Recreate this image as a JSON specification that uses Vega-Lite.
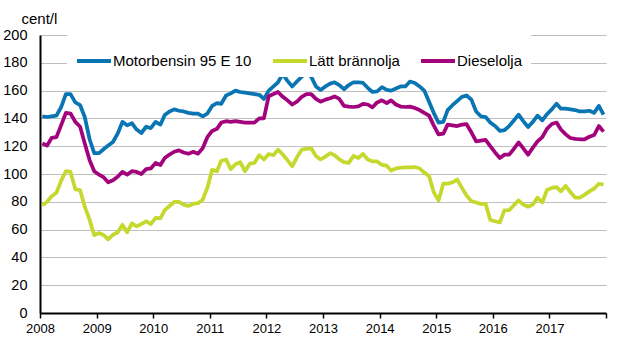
{
  "$schema": "https://vega.github.io/schema/vega-lite/v6.json",
  "width": 566,
  "height": 278,
  "autosize": {"type": "none"},
  "padding": {"left": 40, "top": 35, "right": 22, "bottom": 50},
  "background": "white",
  "config": {"view": {"stroke": null}, "font": "Liberation Sans"},
  "data": {"values": [
    {"d":"2008-01-16","bensin":141.5,"latt":77.5,"diesel":122},
    {"d":"2008-02-16","bensin":141,"latt":80,"diesel":120.5},
    {"d":"2008-03-16","bensin":141.5,"latt":84,"diesel":126},
    {"d":"2008-04-16","bensin":142,"latt":86.5,"diesel":126.5},
    {"d":"2008-05-16","bensin":148,"latt":95,"diesel":135},
    {"d":"2008-06-16","bensin":157.5,"latt":102,"diesel":144},
    {"d":"2008-07-16","bensin":157.5,"latt":101.5,"diesel":143.5},
    {"d":"2008-08-16","bensin":151.5,"latt":89,"diesel":137.5},
    {"d":"2008-09-16","bensin":149.5,"latt":88.5,"diesel":134},
    {"d":"2008-10-16","bensin":141,"latt":76.5,"diesel":122},
    {"d":"2008-11-16","bensin":125,"latt":67,"diesel":110},
    {"d":"2008-12-16","bensin":115,"latt":56,"diesel":102},
    {"d":"2009-01-16","bensin":115,"latt":57.5,"diesel":99.5},
    {"d":"2009-02-16","bensin":118,"latt":56,"diesel":97.5},
    {"d":"2009-03-16","bensin":120.5,"latt":53,"diesel":94},
    {"d":"2009-04-16","bensin":123,"latt":56.3,"diesel":95.5},
    {"d":"2009-05-16","bensin":129,"latt":58,"diesel":98},
    {"d":"2009-06-16","bensin":137.5,"latt":63.5,"diesel":101.5},
    {"d":"2009-07-16","bensin":135,"latt":58,"diesel":99.5},
    {"d":"2009-08-16","bensin":136.5,"latt":64.5,"diesel":102},
    {"d":"2009-09-16","bensin":132,"latt":62.3,"diesel":101.5},
    {"d":"2009-10-16","bensin":129.5,"latt":64,"diesel":100},
    {"d":"2009-11-16","bensin":134,"latt":66,"diesel":103.5},
    {"d":"2009-12-16","bensin":133,"latt":64,"diesel":104},
    {"d":"2010-01-16","bensin":137.5,"latt":68.5,"diesel":108},
    {"d":"2010-02-16","bensin":135.5,"latt":68,"diesel":106.5},
    {"d":"2010-03-16","bensin":142.5,"latt":74,"diesel":111.5},
    {"d":"2010-04-16","bensin":145,"latt":77,"diesel":114},
    {"d":"2010-05-16","bensin":146.5,"latt":80,"diesel":116},
    {"d":"2010-06-16","bensin":145.5,"latt":80,"diesel":117},
    {"d":"2010-07-16","bensin":145,"latt":78,"diesel":115.5},
    {"d":"2010-08-16","bensin":144,"latt":77,"diesel":114.6},
    {"d":"2010-09-16","bensin":143.5,"latt":78.5,"diesel":116},
    {"d":"2010-10-16","bensin":143.5,"latt":79,"diesel":114.6},
    {"d":"2010-11-16","bensin":141.5,"latt":81.5,"diesel":118.5},
    {"d":"2010-12-16","bensin":143.5,"latt":90,"diesel":126.5},
    {"d":"2011-01-16","bensin":149,"latt":103,"diesel":131},
    {"d":"2011-02-16","bensin":151,"latt":102,"diesel":132.5},
    {"d":"2011-03-16","bensin":150.5,"latt":109.5,"diesel":137},
    {"d":"2011-04-16","bensin":156.5,"latt":110.3,"diesel":138},
    {"d":"2011-05-16","bensin":158,"latt":103.5,"diesel":137.5},
    {"d":"2011-06-16","bensin":160,"latt":107,"diesel":138},
    {"d":"2011-07-16","bensin":159,"latt":108.5,"diesel":137.5},
    {"d":"2011-08-16","bensin":158.5,"latt":102,"diesel":137},
    {"d":"2011-09-16","bensin":158,"latt":107.4,"diesel":137},
    {"d":"2011-10-16","bensin":157.5,"latt":108,"diesel":137},
    {"d":"2011-11-16","bensin":157,"latt":113.5,"diesel":140},
    {"d":"2011-12-16","bensin":154,"latt":110.5,"diesel":140},
    {"d":"2012-01-16","bensin":160,"latt":114.4,"diesel":156},
    {"d":"2012-02-16","bensin":163,"latt":113.5,"diesel":157.5},
    {"d":"2012-03-16","bensin":166,"latt":117.5,"diesel":159},
    {"d":"2012-04-16","bensin":172,"latt":114,"diesel":155.5},
    {"d":"2012-05-16","bensin":167,"latt":110,"diesel":153},
    {"d":"2012-06-16","bensin":163,"latt":105.5,"diesel":150},
    {"d":"2012-07-16","bensin":166.5,"latt":112,"diesel":152},
    {"d":"2012-08-16","bensin":170,"latt":117.5,"diesel":155.5},
    {"d":"2012-09-16","bensin":173,"latt":118,"diesel":157.5},
    {"d":"2012-10-16","bensin":170,"latt":118.5,"diesel":157.5},
    {"d":"2012-11-16","bensin":163,"latt":113,"diesel":154},
    {"d":"2012-12-16","bensin":160.5,"latt":110.5,"diesel":152},
    {"d":"2013-01-16","bensin":163,"latt":112.5,"diesel":153.5},
    {"d":"2013-02-16","bensin":165,"latt":115,"diesel":154.5},
    {"d":"2013-03-16","bensin":166,"latt":113.5,"diesel":155.8},
    {"d":"2013-04-16","bensin":164,"latt":110.5,"diesel":154},
    {"d":"2013-05-16","bensin":161,"latt":108.5,"diesel":149},
    {"d":"2013-06-16","bensin":164,"latt":108,"diesel":148.5},
    {"d":"2013-07-16","bensin":166,"latt":113,"diesel":148.2},
    {"d":"2013-08-16","bensin":166,"latt":111.5,"diesel":148.6},
    {"d":"2013-09-16","bensin":165.5,"latt":114.4,"diesel":150.5},
    {"d":"2013-10-16","bensin":162,"latt":110.5,"diesel":150},
    {"d":"2013-11-16","bensin":159,"latt":109,"diesel":148},
    {"d":"2013-12-16","bensin":159.5,"latt":109,"diesel":151.5},
    {"d":"2014-01-16","bensin":162.5,"latt":106.5,"diesel":153},
    {"d":"2014-02-16","bensin":160.5,"latt":106,"diesel":151},
    {"d":"2014-03-16","bensin":160,"latt":102.5,"diesel":153},
    {"d":"2014-04-16","bensin":161.5,"latt":104,"diesel":150},
    {"d":"2014-05-16","bensin":163,"latt":104.5,"diesel":148.5},
    {"d":"2014-06-16","bensin":163,"latt":104.8,"diesel":148.2},
    {"d":"2014-07-16","bensin":166.5,"latt":104.8,"diesel":148.5},
    {"d":"2014-08-16","bensin":165.5,"latt":105,"diesel":147.5},
    {"d":"2014-09-16","bensin":163,"latt":104,"diesel":146},
    {"d":"2014-10-16","bensin":160,"latt":101,"diesel":144},
    {"d":"2014-11-16","bensin":152,"latt":98.5,"diesel":142},
    {"d":"2014-12-16","bensin":144,"latt":87,"diesel":135},
    {"d":"2015-01-16","bensin":137,"latt":81,"diesel":128.5},
    {"d":"2015-02-16","bensin":137.5,"latt":93,"diesel":129},
    {"d":"2015-03-16","bensin":146,"latt":93,"diesel":135.5},
    {"d":"2015-04-16","bensin":149.5,"latt":94,"diesel":135},
    {"d":"2015-05-16","bensin":152.5,"latt":96,"diesel":134.5},
    {"d":"2015-06-16","bensin":155.5,"latt":90,"diesel":135.5},
    {"d":"2015-07-16","bensin":156.5,"latt":84.5,"diesel":135.8},
    {"d":"2015-08-16","bensin":153.5,"latt":80.5,"diesel":130},
    {"d":"2015-09-16","bensin":145,"latt":79.5,"diesel":123.5},
    {"d":"2015-10-16","bensin":141.5,"latt":78.5,"diesel":124},
    {"d":"2015-11-16","bensin":141,"latt":78.5,"diesel":124.5},
    {"d":"2015-12-16","bensin":137,"latt":67,"diesel":120},
    {"d":"2016-01-16","bensin":134.5,"latt":66,"diesel":115.5},
    {"d":"2016-02-16","bensin":131,"latt":65.2,"diesel":111.5},
    {"d":"2016-03-16","bensin":131.5,"latt":73.8,"diesel":113.9},
    {"d":"2016-04-16","bensin":134.5,"latt":74,"diesel":113.9},
    {"d":"2016-05-16","bensin":138.5,"latt":77.5,"diesel":118},
    {"d":"2016-06-16","bensin":142.7,"latt":81,"diesel":122.7},
    {"d":"2016-07-16","bensin":138,"latt":78,"diesel":118.5},
    {"d":"2016-08-16","bensin":133.8,"latt":76.5,"diesel":113.9},
    {"d":"2016-09-16","bensin":137.5,"latt":78,"diesel":119},
    {"d":"2016-10-16","bensin":142,"latt":83,"diesel":123.5},
    {"d":"2016-11-16","bensin":138.6,"latt":79.5,"diesel":126.5},
    {"d":"2016-12-16","bensin":143,"latt":88.5,"diesel":132.5},
    {"d":"2017-01-16","bensin":146.5,"latt":90,"diesel":136},
    {"d":"2017-02-16","bensin":150.6,"latt":90.5,"diesel":137},
    {"d":"2017-03-16","bensin":147,"latt":87.5,"diesel":132},
    {"d":"2017-04-16","bensin":147,"latt":91.5,"diesel":128.5},
    {"d":"2017-05-16","bensin":146.5,"latt":87,"diesel":125.9},
    {"d":"2017-06-16","bensin":146,"latt":83,"diesel":125.3},
    {"d":"2017-07-16","bensin":145,"latt":83,"diesel":125},
    {"d":"2017-08-16","bensin":145,"latt":85,"diesel":125},
    {"d":"2017-09-16","bensin":145.5,"latt":87.5,"diesel":126.8},
    {"d":"2017-10-16","bensin":144,"latt":89.5,"diesel":128},
    {"d":"2017-11-16","bensin":149,"latt":93,"diesel":134.5},
    {"d":"2017-12-16","bensin":142.7,"latt":92.3,"diesel":130.5}
  ]},
  "transform": [{"fold": ["bensin", "latt", "diesel"], "as": ["serie", "value"]}],
  "mark": {"type": "line", "strokeWidth": 3.75, "strokeJoin": "round"},
  "encoding": {
    "x": {
      "field": "d",
      "type": "temporal",
      "scale": {
        "type": "utc",
        "nice": false,
        "domain": [{"year": 2008, "month": 1, "date": 1, "utc": true}, {"year": 2018, "month": 1, "date": 1, "utc": true}]
      },
      "axis": {
        "title": null,
        "grid": false,
        "values": [
          {"year": 2008, "month": 1, "date": 1, "utc": true},
          {"year": 2009, "month": 1, "date": 1, "utc": true},
          {"year": 2010, "month": 1, "date": 1, "utc": true},
          {"year": 2011, "month": 1, "date": 1, "utc": true},
          {"year": 2012, "month": 1, "date": 1, "utc": true},
          {"year": 2013, "month": 1, "date": 1, "utc": true},
          {"year": 2014, "month": 1, "date": 1, "utc": true},
          {"year": 2015, "month": 1, "date": 1, "utc": true},
          {"year": 2016, "month": 1, "date": 1, "utc": true},
          {"year": 2017, "month": 1, "date": 1, "utc": true},
          {"year": 2018, "month": 1, "date": 1, "utc": true}
        ],
        "format": "%Y",
        "labelExpr": "datum.label == '2018' ? '' : datum.label",
        "labelFlush": false,
        "labelOverlap": false,
        "labelFontSize": 13,
        "labelColor": "black",
        "labelPadding": 4,
        "tickSize": 5,
        "tickColor": "black",
        "tickWidth": 1.5,
        "domainColor": "black",
        "domainWidth": 2
      }
    },
    "y": {
      "field": "value",
      "type": "quantitative",
      "scale": {"domain": [0, 200], "nice": false},
      "axis": {
        "values": [0, 20, 40, 60, 80, 100, 120, 140, 160, 180, 200],
        "title": "cent/l",
        "titleAngle": 0,
        "titleAlign": "left",
        "titleBaseline": "alphabetic",
        "titleX": -19,
        "titleY": -12,
        "titleFontSize": 15,
        "titleFontWeight": "normal",
        "titleColor": "black",
        "ticks": false,
        "labelPadding": 13,
        "labelFontSize": 14.5,
        "labelColor": "black",
        "gridColor": "#bfbfbf",
        "gridWidth": 1,
        "domainColor": "black",
        "domainWidth": 2
      }
    },
    "color": {
      "field": "serie",
      "type": "nominal",
      "scale": {"domain": ["bensin", "latt", "diesel"], "range": ["#0a75b3", "#c4d82e", "#a2037c"]},
      "legend": {
        "title": null,
        "orient": "none",
        "legendX": 27,
        "legendY": -1,
        "direction": "horizontal",
        "symbolType": "stroke",
        "symbolStrokeWidth": 4,
        "symbolSize": 1156,
        "labelFontSize": 15,
        "labelColor": "black",
        "labelOffset": 0,
        "columnPadding": 13,
        "fillColor": "white",
        "padding": 8,
        "labelLimit": 300,
        "labelExpr": "datum.value == 'bensin' ? 'Motorbensin 95 E 10' : datum.value == 'latt' ? 'Lätt brännolja' : 'Dieselolja'"
      }
    }
  }
}
